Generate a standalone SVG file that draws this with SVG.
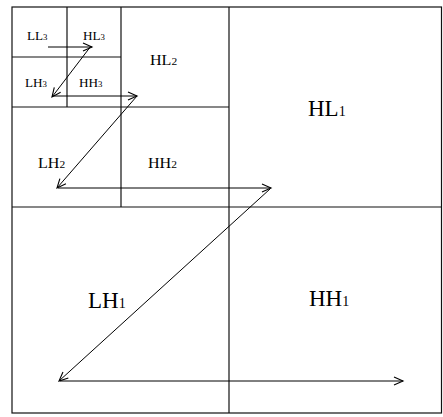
<svg xmlns="http://www.w3.org/2000/svg" width="443" height="417" viewBox="0 0 443 417">
  <style>
    .grid { fill: none; stroke: #111; stroke-width: 1.2; }
    .conn { fill: none; stroke: #000; stroke-width: 1; marker-end: url(#arr); }
    text { font-family: "Liberation Serif", "Times New Roman", serif; fill: #000; }
    .l3 { font-size: 12px; }
    .l3 tspan { font-size: 8px; }
    .l2 { font-size: 14px; }
    .l2 tspan { font-size: 10px; }
    .l1 { font-size: 23px; }
    .l1 tspan { font-size: 14px; }
  </style>
  <defs>
    <marker id="arr" markerUnits="userSpaceOnUse" markerWidth="12" markerHeight="12" viewBox="-10 -6 12 12" refX="0" refY="0" orient="auto">
      <path d="M-9,-4 L0,0 L-9,4" fill="none" stroke="#000" stroke-width="1.1"/>
    </marker>
  </defs>
  <rect width="443" height="417" fill="#fff"/>

  <g id="grid">
    <rect class="grid" x="12" y="7" width="429.5" height="406"/>
    <line class="grid" x1="229" y1="7" x2="229" y2="413"/>
    <line class="grid" x1="12" y1="207" x2="441.5" y2="207"/>
    <line class="grid" x1="121" y1="7" x2="121" y2="207"/>
    <line class="grid" x1="12" y1="107" x2="229" y2="107"/>
    <line class="grid" x1="67" y1="7" x2="67" y2="107"/>
    <line class="grid" x1="12" y1="57" x2="121" y2="57"/>
  </g>

  <g id="LL3"><text class="l3" transform="translate(27,40) scale(1.1,1)">LL<tspan>3</tspan></text></g>
  <g id="HL3"><text class="l3" transform="translate(83,40) scale(1.1,1)">HL<tspan>3</tspan></text></g>
  <g id="LH3"><text class="l3" transform="translate(25,87) scale(1.1,1)">LH<tspan>3</tspan></text></g>
  <g id="HH3"><text class="l3" transform="translate(79,87) scale(1.1,1)">HH<tspan>3</tspan></text></g>
  <g id="HL2"><text class="l2" transform="translate(150,65) scale(1.15,1)">HL<tspan>2</tspan></text></g>
  <g id="LH2"><text class="l2" transform="translate(38,168) scale(1.15,1)">LH<tspan>2</tspan></text></g>
  <g id="HH2"><text class="l2" transform="translate(148,168) scale(1.15,1)">HH<tspan>2</tspan></text></g>
  <g id="HL1"><text class="l1" x="308" y="116">HL<tspan>1</tspan></text></g>
  <g id="LH1"><text class="l1" x="88" y="308">LH<tspan>1</tspan></text></g>
  <g id="HH1"><text class="l1" x="309" y="306">HH<tspan>1</tspan></text></g>

  <g id="connectors">
    <line class="conn" x1="48" y1="47" x2="92" y2="47"/>
    <line class="conn" x1="91" y1="46" x2="52" y2="97"/>
    <line class="conn" x1="53" y1="96" x2="137" y2="96"/>
    <line class="conn" x1="137" y1="96" x2="57" y2="188"/>
    <line class="conn" x1="58" y1="188" x2="271" y2="188"/>
    <line class="conn" x1="270" y1="189" x2="59" y2="381"/>
    <line class="conn" x1="60" y1="381" x2="403" y2="381"/>
  </g>
</svg>
